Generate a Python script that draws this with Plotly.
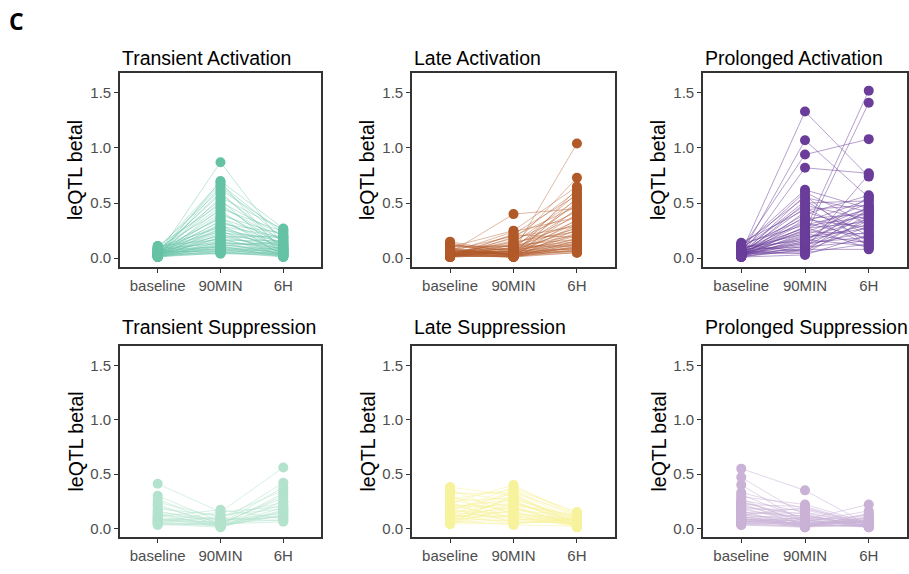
import plotly.graph_objects as go

# ---------------- data ----------------
times = ["baseline", "90MIN", "6H"]
panel_titles = ["Transient Activation", "Late Activation", "Prolonged Activation",
                "Transient Suppression", "Late Suppression", "Prolonged Suppression"]
y_tick_vals = [0.0, 0.5, 1.0, 1.5]
y_tick_text = ["0.0", "0.5", "1.0", "1.5"]

# Transient Activation
ta_base = [0.03, 0.02, 0.08, 0.05, 0.01, 0.10, 0.04, 0.06, 0.02, 0.07,
           0.03, 0.11, 0.05, 0.01, 0.09, 0.04, 0.02, 0.06, 0.08, 0.03,
           0.05, 0.01, 0.07, 0.04, 0.10, 0.02, 0.06, 0.03, 0.09, 0.05,
           0.01, 0.04, 0.08, 0.02, 0.06, 0.03, 0.11, 0.05, 0.01, 0.07,
           0.04, 0.02, 0.09, 0.03, 0.06, 0.01, 0.05, 0.08, 0.02, 0.04,
           0.03, 0.07, 0.01, 0.05, 0.02, 0.06, 0.01, 0.04, 0.03, 0.02]
ta_90 = [0.87, 0.70, 0.69, 0.67, 0.65, 0.62, 0.60, 0.58, 0.55, 0.53,
         0.51, 0.49, 0.47, 0.45, 0.43, 0.41, 0.39, 0.37, 0.36, 0.34,
         0.33, 0.31, 0.30, 0.29, 0.28, 0.27, 0.26, 0.25, 0.24, 0.23,
         0.22, 0.21, 0.20, 0.19, 0.18, 0.18, 0.17, 0.16, 0.15, 0.15,
         0.14, 0.13, 0.13, 0.12, 0.11, 0.11, 0.10, 0.10, 0.09, 0.09,
         0.08, 0.08, 0.07, 0.07, 0.06, 0.06, 0.05, 0.05, 0.045, 0.04]
ta_6h = [0.12, 0.27, 0.05, 0.22, 0.18, 0.25, 0.08, 0.14, 0.26, 0.03,
         0.20, 0.10, 0.16, 0.24, 0.06, 0.12, 0.21, 0.02, 0.17, 0.09,
         0.13, 0.23, 0.04, 0.19, 0.11, 0.07, 0.15, 0.01, 0.10, 0.18,
         0.05, 0.14, 0.08, 0.20, 0.03, 0.12, 0.06, 0.16, 0.02, 0.09,
         0.11, 0.04, 0.13, 0.07, 0.15, 0.01, 0.10, 0.05, 0.08, 0.03,
         0.06, 0.02, 0.09, 0.04, 0.07, 0.01, 0.05, 0.03, 0.02, 0.04]

# Late Activation
la_base = [0.04, 0.02, 0.10, 0.06, 0.03, 0.12, 0.01, 0.08, 0.05, 0.15,
           0.02, 0.07, 0.04, 0.11, 0.03, 0.09, 0.01, 0.05, 0.13, 0.02,
           0.06, 0.03, 0.08, 0.01, 0.04, 0.10, 0.02, 0.07, 0.03, 0.05,
           0.14, 0.02, 0.06, 0.03, 0.09, 0.01, 0.04, 0.07, 0.02, 0.05,
           0.03, 0.08, 0.01, 0.06, 0.02, 0.04, 0.11, 0.03, 0.05, 0.02,
           0.01, 0.04, 0.03, 0.06, 0.02, 0.05, 0.01, 0.03, 0.02, 0.05]
la_90 = [0.06, 0.12, 0.25, 0.03, 0.18, 0.08, 0.22, 0.02, 0.14, 0.05,
         0.10, 0.20, 0.01, 0.07, 0.16, 0.04, 0.12, 0.24, 0.02, 0.09,
         0.06, 0.13, 0.03, 0.19, 0.05, 0.11, 0.01, 0.08, 0.15, 0.04,
         0.02, 0.10, 0.06, 0.21, 0.03, 0.07, 0.12, 0.01, 0.05, 0.09,
         0.04, 0.02, 0.08, 0.03, 0.06, 0.01, 0.11, 0.04, 0.02, 0.05,
         0.03, 0.07, 0.01, 0.04, 0.02, 0.05, 0.03, 0.01, 0.02, 0.40]
la_6h = [1.04, 0.73, 0.65, 0.63, 0.61, 0.59, 0.57, 0.55, 0.53, 0.51,
         0.49, 0.47, 0.45, 0.44, 0.42, 0.40, 0.38, 0.37, 0.35, 0.34,
         0.32, 0.31, 0.30, 0.29, 0.28, 0.27, 0.26, 0.25, 0.24, 0.23,
         0.22, 0.21, 0.20, 0.19, 0.18, 0.17, 0.17, 0.16, 0.15, 0.15,
         0.14, 0.13, 0.13, 0.12, 0.12, 0.11, 0.11, 0.10, 0.10, 0.09,
         0.09, 0.08, 0.08, 0.07, 0.07, 0.06, 0.06, 0.05, 0.05, 0.45]

# Prolonged Activation
pa_base = [0.05, 0.03, 0.08, 0.02, 0.06, 0.04, 0.01, 0.10, 0.07, 0.03,
           0.12, 0.05, 0.02, 0.09, 0.04, 0.14, 0.01, 0.06, 0.03, 0.11,
           0.02, 0.07, 0.04, 0.13, 0.01, 0.05, 0.08, 0.03, 0.06, 0.02,
           0.09, 0.04, 0.01, 0.07, 0.03, 0.10, 0.05, 0.02, 0.06, 0.04,
           0.01, 0.08, 0.03, 0.05, 0.02, 0.12, 0.04, 0.06, 0.01, 0.03]
pa_90 = [1.33, 1.07, 0.94, 0.82, 0.25, 0.20, 0.08, 0.62, 0.60, 0.57,
         0.55, 0.52, 0.50, 0.48, 0.46, 0.44, 0.42, 0.40, 0.38, 0.36,
         0.35, 0.33, 0.32, 0.30, 0.29, 0.28, 0.27, 0.26, 0.24, 0.23,
         0.22, 0.21, 0.19, 0.18, 0.17, 0.16, 0.15, 0.14, 0.13, 0.12,
         0.11, 0.10, 0.09, 0.08, 0.07, 0.06, 0.05, 0.04, 0.03, 0.15]
pa_6h = [0.74, 0.55, 1.08, 0.77, 1.52, 1.41, 0.76, 0.45, 0.30, 0.10,
         0.42, 0.20, 0.52, 0.35, 0.15, 0.48, 0.25, 0.57, 0.12, 0.40,
         0.28, 0.53, 0.18, 0.44, 0.38, 0.09, 0.33, 0.50, 0.22, 0.46,
         0.14, 0.41, 0.27, 0.36, 0.11, 0.43, 0.31, 0.19, 0.47, 0.24,
         0.39, 0.16, 0.34, 0.08, 0.29, 0.45, 0.13, 0.37, 0.21, 0.56]

# Transient Suppression
ts_base = [0.41, 0.30, 0.27, 0.24, 0.22, 0.20, 0.18, 0.16, 0.15, 0.14,
           0.13, 0.12, 0.11, 0.10, 0.09, 0.08, 0.08, 0.07, 0.06, 0.06,
           0.05, 0.05, 0.04, 0.04, 0.03]
ts_90 = [0.15, 0.06, 0.03, 0.10, 0.02, 0.05, 0.12, 0.04, 0.08, 0.01,
         0.07, 0.03, 0.17, 0.05, 0.02, 0.09, 0.04, 0.06, 0.15, 0.03,
         0.02, 0.11, 0.05, 0.01, 0.04]
ts_6h = [0.20, 0.42, 0.15, 0.35, 0.12, 0.28, 0.18, 0.38, 0.10, 0.25,
         0.14, 0.32, 0.09, 0.22, 0.17, 0.07, 0.30, 0.11, 0.56, 0.19,
         0.13, 0.24, 0.08, 0.16, 0.06]

# Late Suppression
ls_base = [0.38, 0.36, 0.34, 0.32, 0.30, 0.29, 0.27, 0.26, 0.25, 0.24,
           0.23, 0.22, 0.21, 0.20, 0.19, 0.18, 0.17, 0.16, 0.15, 0.15,
           0.14, 0.13, 0.12, 0.12, 0.11, 0.10, 0.10, 0.09, 0.09, 0.08,
           0.08, 0.07, 0.07, 0.06, 0.06, 0.05, 0.05, 0.04, 0.04, 0.04]
ls_90 = [0.30, 0.12, 0.25, 0.33, 0.08, 0.20, 0.36, 0.15, 0.28, 0.05,
         0.40, 0.18, 0.10, 0.26, 0.22, 0.06, 0.32, 0.14, 0.38, 0.09,
         0.24, 0.04, 0.19, 0.35, 0.11, 0.27, 0.16, 0.07, 0.21, 0.13,
         0.34, 0.03, 0.23, 0.17, 0.29, 0.08, 0.12, 0.31, 0.05, 0.20]
ls_6h = [0.05, 0.10, 0.03, 0.13, 0.07, 0.02, 0.15, 0.04, 0.09, 0.06,
         0.11, 0.03, 0.08, 0.01, 0.12, 0.05, 0.02, 0.07, 0.14, 0.04,
         0.06, 0.09, 0.02, 0.10, 0.03, 0.08, 0.01, 0.05, 0.12, 0.04,
         0.07, 0.02, 0.06, 0.11, 0.03, 0.09, 0.01, 0.05, 0.08, 0.04]

# Prolonged Suppression
ps_base = [0.55, 0.47, 0.40, 0.33, 0.31, 0.29, 0.27, 0.26, 0.25, 0.24,
           0.23, 0.22, 0.21, 0.20, 0.19, 0.18, 0.17, 0.16, 0.15, 0.14,
           0.14, 0.13, 0.12, 0.12, 0.11, 0.10, 0.10, 0.09, 0.09, 0.08,
           0.08, 0.07, 0.07, 0.06, 0.06, 0.05, 0.05, 0.04, 0.04, 0.03,
           0.03, 0.05, 0.07, 0.09, 0.11]
ps_90 = [0.35, 0.12, 0.05, 0.18, 0.08, 0.22, 0.03, 0.15, 0.06, 0.10,
         0.02, 0.20, 0.07, 0.13, 0.04, 0.17, 0.09, 0.01, 0.11, 0.05,
         0.14, 0.03, 0.08, 0.19, 0.02, 0.06, 0.12, 0.04, 0.01, 0.09,
         0.03, 0.07, 0.02, 0.10, 0.05, 0.01, 0.04, 0.06, 0.02, 0.03,
         0.01, 0.08, 0.02, 0.04, 0.03]
ps_6h = [0.03, 0.02, 0.06, 0.04, 0.22, 0.05, 0.10, 0.03, 0.16, 0.07,
         0.02, 0.04, 0.12, 0.01, 0.08, 0.03, 0.05, 0.14, 0.02, 0.06,
         0.04, 0.09, 0.01, 0.03, 0.11, 0.05, 0.02, 0.07, 0.13, 0.01,
         0.06, 0.03, 0.08, 0.02, 0.04, 0.10, 0.01, 0.05, 0.03, 0.02,
         0.04, 0.01, 0.06, 0.02, 0.03]

panel_data = [(ta_base, ta_90, ta_6h), (la_base, la_90, la_6h), (pa_base, pa_90, pa_6h),
              (ts_base, ts_90, ts_6h), (ls_base, ls_90, ls_6h), (ps_base, ps_90, ps_6h)]
point_colors = ["#66C2A5", "#B15928", "#6A3D9A", "#B3E2CD", "#F7F29C", "#CAB2D6"]
line_colors = ["rgba(102,194,165,0.6)", "rgba(177,89,40,0.6)", "rgba(106,61,154,0.7)",
               "rgba(179,226,205,0.75)", "rgba(247,242,156,0.75)", "rgba(202,178,214,0.75)"]

# ---------------- layout geometry ----------------
W, H = 909, 574
col_px = [(120, 321), (412, 615), (703, 907)]
row_px = [(73, 267), (346, 537)]
title_px = [58, 327]
FONT = "Liberation Sans, Arial, Helvetica, sans-serif"

fig = go.Figure()
annotations = []
layout_axes = {}

for i, (vals, title) in enumerate(zip(panel_data, panel_titles)):
    r, c = divmod(i, 3)
    xs, ys = [], []
    n = min(len(v) for v in vals)
    for g in range(n):
        for t in range(3):
            xs.append(t)
            ys.append(vals[t][g])
        xs.append(None)
        ys.append(None)
    px_, py_ = [], []
    for t in range(3):
        px_ += [t] * n
        py_ += list(vals[t][:n])
    ax = "" if i == 0 else str(i + 1)
    fig.add_trace(go.Scatter(x=xs, y=ys, mode="lines", xaxis="x" + ax, yaxis="y" + ax,
                             line=dict(color=line_colors[i], width=0.7),
                             hoverinfo="skip", showlegend=False))
    fig.add_trace(go.Scatter(x=px_, y=py_, mode="markers", xaxis="x" + ax, yaxis="y" + ax,
                             marker=dict(color=point_colors[i], size=10, line=dict(width=0)),
                             showlegend=False))
    x0, x1 = col_px[c]
    y0, y1 = row_px[r]
    common = dict(showline=True, mirror=True, linecolor="#333333", linewidth=1.6,
                  ticks="outside", ticklen=4, tickwidth=1.1, tickcolor="#333333",
                  showgrid=False, zeroline=False,
                  tickfont=dict(family=FONT, size=15, color="#4D4D4D"))
    layout_axes["xaxis" + ax] = dict(domain=[x0 / W, x1 / W], anchor="y" + ax,
                                     range=[-0.6, 2.6], tickvals=[0, 1, 2], ticktext=times,
                                     **common)
    layout_axes["yaxis" + ax] = dict(domain=[1 - y1 / H, 1 - y0 / H], anchor="x" + ax,
                                     range=[-0.08, 1.68], tickvals=y_tick_vals,
                                     ticktext=y_tick_text, **common)
    annotations.append(dict(text=title, x=x0 / W, y=1 - title_px[r] / H, xref="paper",
                            yref="paper", xanchor="left", yanchor="middle", showarrow=False,
                            font=dict(family=FONT, size=19.5, color="#000000")))
    annotations.append(dict(text="leQTL betal", x=(x0 - 45) / W, y=1 - (y0 + y1) / 2 / H,
                            xref="paper", yref="paper", xanchor="center", yanchor="middle",
                            textangle=-90, showarrow=False,
                            font=dict(family=FONT, size=19.5, color="#000000")))

annotations.append(dict(text="<b>C</b>", x=7 / W, y=1 - 21 / H, xref="paper", yref="paper",
                        xanchor="left", yanchor="middle", showarrow=False,
                        font=dict(family="Open Sans, sans-serif", size=23, color="#000000")))

fig.update_layout(width=W, height=H, margin=dict(l=0, r=0, t=0, b=0),
                  paper_bgcolor="white", plot_bgcolor="white",
                  annotations=annotations, **layout_axes)

fig.write_html("out.html", config={"displayModeBar": False},
               post_script="document.body.style.margin='0';document.body.style.overflow='hidden';")
